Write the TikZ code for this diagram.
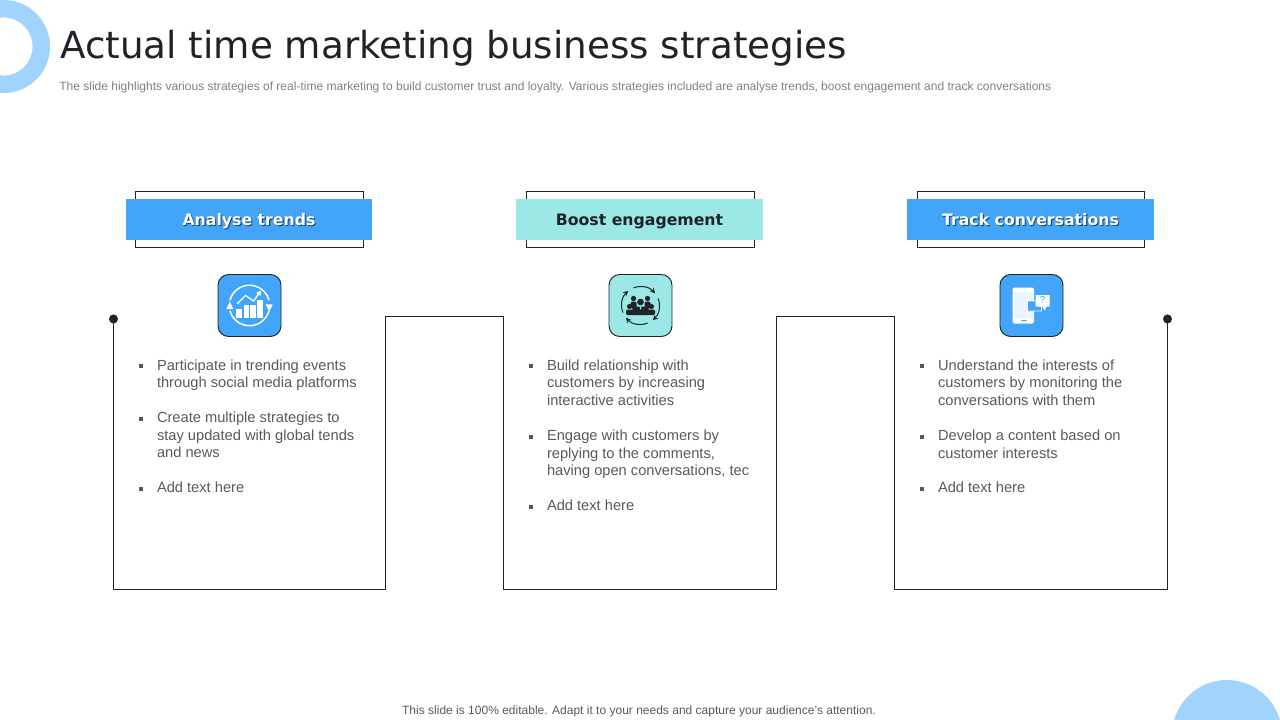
\documentclass[tikz,border=0pt]{standalone}
\usepackage{fontspec}
\setmainfont{Liberation Sans}
\newfontfamily\verd{DejaVu Sans}
\usetikzlibrary{arrows.meta,calc}
\definecolor{hblue}{HTML}{42A5F9}
\definecolor{hteal}{HTML}{9BE8E6}
\definecolor{lblue}{HTML}{A0D4FF}
\definecolor{ink}{HTML}{1F2328}
\definecolor{bodygray}{HTML}{595959}
\definecolor{subgray}{HTML}{808080}
\newcommand{\shadowed}[1]{\rlap{\kern0.8pt\raisebox{-0.8pt}{\color{black!60!hblue}#1}}#1}
\newcommand{\bul}{\llap{\raisebox{1.5pt}{\color{bodygray}\rule{2.8pt}{2.8pt}}\hspace{10.6pt}}}
\tikzset{
  x=0.75pt,y=-0.75pt,
  backbox/.style={draw=ink,line width=0.8pt,fill=white,inner sep=0,outer sep=0,minimum width=#1*0.75pt,minimum height=42pt},
  headbox/.style={inner sep=0,outer sep=0,minimum width=246.5*0.75pt,minimum height=30.75pt,text height=9.5pt,text depth=0.5pt,font=\verd\bfseries\fontsize{11.8}{15}\selectfont},
  iconbox/.style={draw=ink,line width=0.7pt,rounded corners=8pt,inner sep=0,outer sep=0,minimum width=47.25pt,minimum height=46.5pt},
  bodytext/.style={anchor=north west,align=left,inner sep=0,outer sep=0,text=bodygray,font=\fontsize{11}{13.2}\selectfont},
  rail/.style={draw=ink,line width=0.8pt},
  railend/.style={circle,fill=ink,inner sep=0,minimum size=6.8pt},
}
\begin{document}
\begin{tikzpicture}
\useasboundingbox (0,0) rectangle (1280,720);
% decoration
\fill[lblue,even odd rule] (3.5,46.5) circle[radius=34.9pt] (3.5,46.5) circle[radius=21.8pt];
\fill[lblue] (1227,735) circle[radius=41.25pt];
% title
\node[anchor=base west,inner sep=0,text=ink,font=\verd\fontsize{27.95}{34}\selectfont] (title) at (60,59) {Actual time marketing business strategies};
\node[anchor=base west,inner sep=0,text=subgray,font=\fontsize{9.02}{11}\selectfont] (sub) at (59,91) {The slide highlights various strategies of real-time marketing to build customer trust and loyalty. Various strategies included are analyse trends, boost engagement and track conversations};
\node[anchor=base,inner sep=0,text=bodygray,font=\fontsize{9.01}{11}\selectfont] (foot) at (639,714) {This slide is 100\% editable. Adapt it to your needs and capture your audience's attention.};
% rail
\node[railend] (d1) at (113.5,319) {};
\node[railend] (d2) at (1167.5,319) {};
\coordinate (r1) at (113.5,589.5);
\coordinate (r2) at (385.5,589.5);
\coordinate (r3) at (385.5,316.5);
\coordinate (r4) at (503.5,316.5);
\coordinate (r5) at (503.5,589.5);
\coordinate (r6) at (776.5,589.5);
\coordinate (r7) at (776.5,316.5);
\coordinate (r8) at (894.5,316.5);
\coordinate (r9) at (894.5,589.5);
\coordinate (r10) at (1167.5,589.5);
\draw[rail] (d1.center) -- (r1) -- (r2) -- (r3) -- (r4) -- (r5) -- (r6) -- (r7) -- (r8) -- (r9) -- (r10) -- (d2.center);
% headers
\node[backbox=228] (b1) at (249.5,219.5) {};
\node[backbox=228] (b2) at (640.5,219.5) {};
\node[backbox=227] (b3) at (1031,219.5) {};
\node[headbox,fill=hblue,text=white] (h1) at (249,219.5) {\shadowed{Analyse trends}};
\node[headbox,fill=hteal,text=ink] (h2) at (639.5,219.5) {Boost engagement};
\node[headbox,fill=hblue,text=white] (h3) at (1030.5,219.5) {\shadowed{Track conversations}};
% icon boxes
\node[iconbox,fill=hblue] (i1) at (249.5,305.5) {};
\node[iconbox,fill=hteal] (i2) at (640.5,305.5) {};
\node[iconbox,fill=hblue] (i3) at (1031.5,305.5) {};
% icon 1
\begin{scope}[shift={(i1.center)}]
  \draw[white,line width=1.1pt] (165:15.2pt) arc[start angle=165,end angle=15,radius=15.2pt];
  \draw[white,line width=1.1pt] (-15:15.2pt) arc[start angle=-15,end angle=-165,radius=15.2pt];
  \fill[white] (-23.2,3.5) -- (-16.2,3.5) -- (-19.7,-3.8) -- cycle;
  \fill[white] (16.2,-1.2) -- (23.2,-1.2) -- (19.7,6) -- cycle;
  \fill[white] (-13.3,3) rectangle (-7.6,12);
  \fill[white] (-6,-0.5) rectangle (-1,12);
  \fill[white] (0.7,-0.5) rectangle (6.5,12);
  \fill[white] (7.3,-6) rectangle (13,12);
  \draw[white,line width=1pt] (-12.5,-1.5) -- (-4,-10) -- (4,-4.5) -- (9.5,-12);
  \fill[white] (11.5,-15) -- (6.5,-12.5) -- (11,-9.5) -- cycle;
\end{scope}
% icon 2
\begin{scope}[shift={(i2.center)}]
  \foreach \a in {40,130,220,310}
    \draw[ink,line width=0.75pt,-{Stealth[length=4pt,width=4pt]}] (\a+72:14.2pt) arc[start angle=\a+72,end angle=\a,radius=14.2pt];
  \fill[ink] (-7,-7) circle[radius=2pt];
  \fill[ink] (7,-7) circle[radius=2pt];
  \fill[ink] (-11,1) circle[radius=1.9pt];
  \fill[ink] (11,1) circle[radius=1.9pt];
  \fill[ink] (0,-3.5) circle[radius=2.5pt];
  \fill[ink,rounded corners=1pt] (-14.5,9.5) -- (-14.5,4) -- (-4,4) -- (-4,9.5) -- cycle;
  \fill[ink,rounded corners=1pt] (14.5,9.5) -- (14.5,4) -- (4,4) -- (4,9.5) -- cycle;
  \fill[ink,rounded corners=1pt] (-10,-4) rectangle (-4,3);
  \fill[ink,rounded corners=1pt] (10,-4) rectangle (4,3);
  \fill[ink,rounded corners=1pt] (-8,9.5) -- (-8,1) -- (8,1) -- (8,9.5) -- cycle;
  \fill[hteal] (-1,1) -- (1,1) -- (0,4.5) -- cycle;
\end{scope}
% icon 3
\begin{scope}[shift={(i3.center)}]
  \fill[white,rounded corners=1.2pt] (-19,-18) rectangle (2.5,18);
  \fill[white!88!hblue] (-18,-13.5) rectangle (1.5,12.5);
  \draw[hblue,line width=0.6pt] (-11,15.3) -- (-5,15.3);
  \draw[white,line width=0.7pt,fill=hblue] (-4,-4.5) -- (10,-4.5) -- (10,5.5) -- (-0.5,5.5) -- (-2.5,9.5) -- (-2.5,5.5) -- (-4,5.5) -- cycle;
  \fill[white] (4,-10.5) -- (18,-10.5) -- (18,1) -- (15,1) -- (13,5) -- (11,1) -- (4,1) -- cycle;
  \node[inner sep=0,text=hblue,font=\fontsize{7.5}{8}\selectfont] (q) at (11,-5) {?};
\end{scope}
% body text column 1
\node[bodytext] (t11) at (157,359.5) {\bul Participate in trending events\\through social media platforms};
\node[bodytext] (t12) at (157,412) {\bul Create multiple strategies to\\stay updated with global tends\\and news};
\node[bodytext] (t13) at (157,482) {\bul Add text here};
% column 2
\node[bodytext] (t21) at (547,359.5) {\bul Build relationship with\\customers by increasing\\interactive activities};
\node[bodytext] (t22) at (547,430) {\bul Engage with customers by\\replying to the comments,\\having open conversations, tec};
\node[bodytext] (t23) at (547,500) {\bul Add text here};
% column 3
\node[bodytext] (t31) at (938,359.5) {\bul Understand the interests of\\customers by monitoring the\\conversations with them};
\node[bodytext] (t32) at (938,430) {\bul Develop a content based on\\customer interests};
\node[bodytext] (t33) at (938,482) {\bul Add text here};
\end{tikzpicture}
\end{document}
